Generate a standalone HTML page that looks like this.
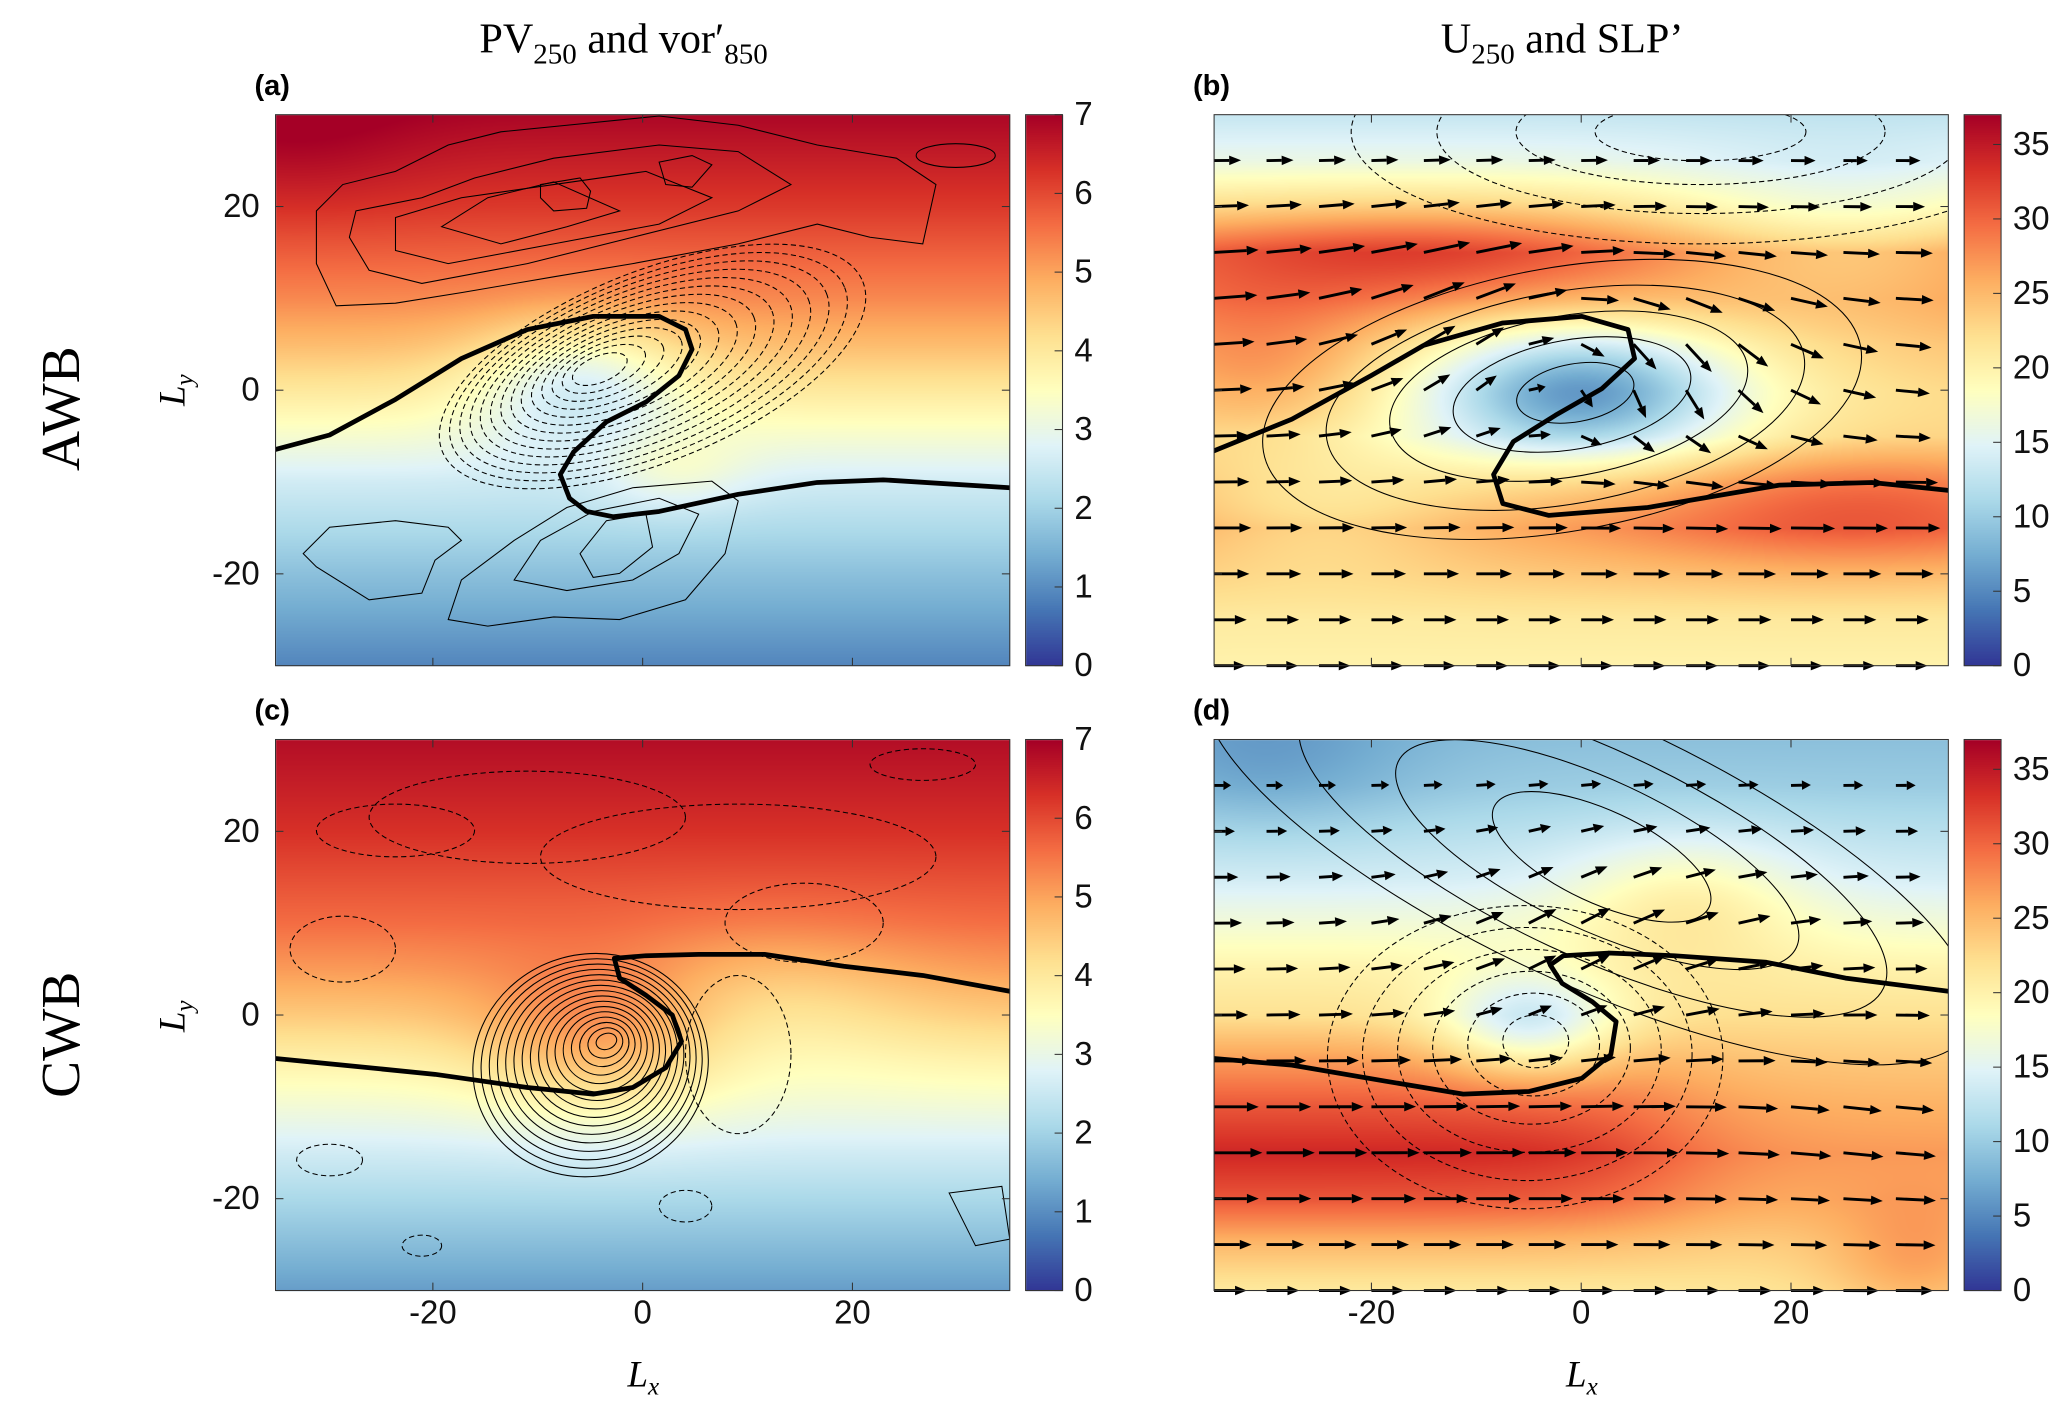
<!DOCTYPE html>
<html><head><meta charset="utf-8"><style>
html,body{margin:0;padding:0;background:#fff;width:2067px;height:1411px;overflow:hidden}
#cv{position:absolute;left:0;top:0}
#sv{position:absolute;left:0;top:0}
text{font-family:"Liberation Sans",sans-serif}
</style></head><body>
<canvas id="cv" width="2067" height="1411"></canvas>
<svg id="sv" width="2067" height="1411" viewBox="0 0 1568 1070.4" xmlns="http://www.w3.org/2000/svg">
<defs>
<clipPath id="ca"><rect x="209" y="87" width="557" height="418"/></clipPath>
<clipPath id="cb"><rect x="921" y="87" width="557" height="418"/></clipPath>
<clipPath id="cc"><rect x="209" y="561" width="557" height="418"/></clipPath>
<clipPath id="cd"><rect x="921" y="561" width="557" height="418"/></clipPath>
</defs>
<g fill="none" stroke="#000" stroke-width="0.8">
<g id="ga" clip-path="url(#ca)"></g><g id="gb" clip-path="url(#cb)"></g><g id="gc" clip-path="url(#cc)"></g><g id="gd" clip-path="url(#cd)"></g>
</g>
<g id="thick" fill="none" stroke="#000" stroke-width="3.6" stroke-linejoin="round" stroke-linecap="round">
<polyline clip-path="url(#ca)" points="209,341 250,330 300,303 350,272 400,250 450,240 500,240 520,250 525,265 515,285 490,305 460,320 435,343 425,360 432,378 445,388 465,392 500,388 560,375 620,366 670,364 766,370"/>
<polyline clip-path="url(#cb)" points="921,342 980,318 1040,285 1080,262 1140,245 1200,240 1235,250 1240,272 1215,295 1180,315 1148,335 1133,360 1140,382 1175,391 1250,385 1350,368 1420,366 1478,372"/>
<polyline clip-path="url(#cc)" points="209,803 260,808 330,815 400,825 450,830 480,825 505,810 517,790 510,770 490,755 470,742 466,727 490,725 530,724 580,724 640,733 700,740 766,752"/>
<polyline clip-path="url(#cd)" points="921,803 980,808 1050,820 1110,830 1160,828 1200,818 1222,800 1226,775 1208,760 1185,746 1176,732 1186,725 1220,723 1270,725 1340,730 1400,742 1478,752"/>
</g>
<g id="arr" fill="#000" stroke="#000"></g>
<g id="frames" fill="none" stroke="#333" stroke-width="0.8">
<rect x="209" y="87" width="557" height="418"/><rect x="921" y="87" width="557" height="418"/>
<rect x="209" y="561" width="557" height="418"/><rect x="921" y="561" width="557" height="418"/>
<rect x="778" y="87" width="28" height="418"/><rect x="1490" y="87" width="28" height="418"/>
<rect x="778" y="561" width="28" height="418"/><rect x="1490" y="561" width="28" height="418"/>
</g>
<g id="ticks" stroke="#333" stroke-width="0.8"></g>
<g id="labels" font-size="23" fill="#111"></g>
<text x="473" y="40" font-size="32" text-anchor="middle" style="font-family:'Liberation Serif',serif">PV<tspan font-size="22" dy="8">250</tspan><tspan dy="-8"> and vor′</tspan><tspan font-size="22" dy="8">850</tspan></text>
<text x="1185" y="40" font-size="32" text-anchor="middle" style="font-family:'Liberation Serif',serif">U<tspan font-size="22" dy="8">250</tspan><tspan dy="-8"> and SLP’</tspan></text>
<text x="193" y="72" font-size="22" font-weight="bold">(a)</text>
<text x="905" y="72" font-size="22" font-weight="bold">(b)</text>
<text x="193" y="546" font-size="22" font-weight="bold">(c)</text>
<text x="905" y="546" font-size="22" font-weight="bold">(d)</text>
<text transform="translate(60,310) rotate(-90)" font-size="42" text-anchor="middle" style="font-family:'Liberation Serif',serif">AWB</text>
<text transform="translate(60,785) rotate(-90)" font-size="42" text-anchor="middle" style="font-family:'Liberation Serif',serif">CWB</text>
<text transform="translate(140,296) rotate(-90)" font-size="28" text-anchor="middle" font-style="italic" style="font-family:'Liberation Serif',serif">L<tspan font-size="19" dy="6">y</tspan></text>
<text transform="translate(140,771) rotate(-90)" font-size="28" text-anchor="middle" font-style="italic" style="font-family:'Liberation Serif',serif">L<tspan font-size="19" dy="6">y</tspan></text>
<text x="488" y="1052" font-size="28" text-anchor="middle" font-style="italic" style="font-family:'Liberation Serif',serif">L<tspan font-size="19" dy="6">x</tspan></text>
<text x="1200" y="1052" font-size="28" text-anchor="middle" font-style="italic" style="font-family:'Liberation Serif',serif">L<tspan font-size="19" dy="6">x</tspan></text>
</svg>
<script>
const S=2067/1568;
const CM=['#313695','#4575b4','#74add1','#abd9e9','#e0f3f8','#ffffbf','#fee090','#fdae61','#f46d43','#d73027','#a50026'].map(h=>[parseInt(h.substr(1,2),16),parseInt(h.substr(3,2),16),parseInt(h.substr(5,2),16)]);
function col(t){t=Math.max(0,Math.min(1,t))*10;let i=Math.min(9,Math.floor(t)),f=t-i;return [0,1,2].map(k=>CM[i][k]+(CM[i+1][k]-CM[i][k])*f);}
function ip(a,y){if(y>=a[0][0])return a[0][1];for(let i=1;i<a.length;i++){if(y>=a[i][0]){let f=(y-a[i][0])/(a[i-1][0]-a[i][0]);return a[i][1]+(a[i-1][1]-a[i][1])*f;}}return a[a.length-1][1];}
function g(x,y,cx,cy,sx,sy){let dx=(x-cx)/sx,dy=(y-cy)/sy;return Math.exp(-0.5*(dx*dx+dy*dy));}
function fa(x,y){return ip([[30,6.9],[20,6.2],[10,5.3],[5,4.7],[0,4.0],[-5,3.3],[-10,2.6],[-20,1.7],[-30,0.9]],y)-1.4*g(x,y,-6,1,7,5)+0.6*g(x,y,3,-9,5,3)+0.3*g(x,y,-33,28,8,6);}
function fc(x,y){return ip([[30,6.8],[20,6.3],[10,5.6],[5,5.1],[0,4.5],[-5,3.8],[-10,3.2],[-15,2.6],[-20,2.1],[-30,1.2]],y)+1.0*g(x,y,-4,-3,8,6)-0.5*g(x,y,12,2,10,6);}
function fb(x,y){return ip([[30,13],[25,16],[20,22],[15,29],[10,28],[5,25],[0,23],[-5,22],[-10,25],[-15,27],[-20,24],[-25,21],[-30,20]],y)+4*g(x,y,-15,15,15,4)-5*g(x,y,25,17,12,6)-13*g(x,y,0,0,10,5)-4*g(x,y,0,0,18,8)+5*g(x,y,25,-12,15,5)-4*g(x,y,-25,-13,10,5)+4*g(x,y,-30,2,8,6);}
function fd(x,y){let j=ip([[30,9],[25,10],[20,12],[15,14],[10,17],[5,20],[0,22],[-5,27],[-10,31],[-15,34],[-20,31],[-25,25],[-30,21]],y);let f=1-0.6/(1+Math.exp(-(x-8)/5));let U=j+(y<0?(j-22)*(f-1):0);return U-9*g(x,y,-5,-1,6,4)+5*g(x,y,10,13,8,5)-3*g(x,y,-30,28,10,6)+4*g(x,y,32,-27,6,5);}
const cv=document.getElementById('cv'),ctx=cv.getContext('2d');
function fill(px,py,pw,ph,f,vmax,cbar){const X0=Math.round(px*S),Y0=Math.round(py*S),W=Math.round(pw*S),H=Math.round(ph*S);const im=ctx.createImageData(W,H);for(let j=0;j<H;j++){for(let i=0;i<W;i++){let v;if(cbar){v=1-(j+.5)/H;}else{let x=-35+70*(i+.5)/W,y=30-60*(j+.5)/H;v=f(x,y)/vmax;}let c=col(v),o=(j*W+i)*4;im.data[o]=c[0];im.data[o+1]=c[1];im.data[o+2]=c[2];im.data[o+3]=255;}}ctx.putImageData(im,X0,Y0);}
fill(209,87,557,418,fa,7);fill(921,87,557,418,fb,37);fill(209,561,557,418,fc,7);fill(921,561,557,418,fd,37);
fill(778,87,28,418,null,1,1);fill(1490,87,28,418,null,1,1);fill(778,561,28,418,null,1,1);fill(1490,561,28,418,null,1,1);
const NS='http://www.w3.org/2000/svg';
function el(par,tag,at){const e=document.createElementNS(NS,tag);for(const k in at)e.setAttribute(k,at[k]);par.appendChild(e);return e;}
const G={ca:document.getElementById('ga'),cb:document.getElementById('gb'),cc:document.getElementById('gc'),cd:document.getElementById('gd')};
function ell(clip,cx,cy,rx,ry,rot,dash){el(G[clip],'ellipse',{cx,cy,rx,ry,transform:`rotate(${rot} ${cx} ${cy})`,'stroke-dasharray':dash?'4 2.5':'none'});}
function poly(clip,pts,dash){el(G[clip],'polygon',{points:pts,'stroke-dasharray':dash?'4 2.5':'none'});}
// panel a
poly('ca','240,160 260,140 300,130 340,110 380,100 430,95 500,88 560,95 620,110 680,120 710,140 700,185 660,180 620,170 560,185 480,200 420,210 350,222 300,230 255,232 240,200');
poly('ca','270,160 320,150 360,135 420,120 500,110 560,115 600,140 560,160 480,180 400,200 320,215 280,205 265,180');
poly('ca','300,165 350,150 420,140 490,130 540,150 500,170 420,185 340,200 300,190');
poly('ca','335,172 370,150 420,138 470,160 430,172 380,185');
poly('ca','410,140 440,135 448,145 445,158 420,160 410,150');
poly('ca','500,123 525,118 540,125 525,142 505,140');
ell('ca',725,118,30,9,0);
for(let k=0;k<14;k++){let t=k/13;ell('ca',455+40*t,280-2*t,22+150*t,10+62*t,-22,1);}
poly('ca','340,470 350,440 390,410 430,385 480,370 540,365 560,380 550,420 520,455 470,470 420,468 370,475');
poly('ca','390,440 410,410 450,388 500,378 530,390 515,420 480,440 430,448');
poly('ca','440,420 460,395 490,390 495,415 470,435 450,438');
poly('ca','230,420 250,400 300,395 340,400 350,410 330,425 320,450 280,455 240,430');
// panel b
for(let k=0;k<5;k++){let t=k/4;ell('cb',1195-10*t,298+5*t,45+185*t,22+78*t,-10,0);}
[[80,22],[140,40],[200,62],[265,85]].forEach(r=>ell('cb',1290,100,r[0],r[1],0,1));
// panel c
for(let k=0;k<16;k++){let t=k/15;ell('cc',460-12*t,790+18*t,8+82*t,6+78*t,-20,0);}
[[300,630,60,20],[260,720,40,25],[400,620,120,35],[560,800,40,60],[700,580,40,12],[560,650,150,40],[250,880,25,12],[520,915,20,12],[320,945,15,8],[610,700,60,30]].forEach(e=>ell('cc',e[0],e[1],e[2],e[3],0,1));
poly('cc','720,905 760,900 766,940 740,945');
// panel d
for(let k=0;k<4;k++){let t=k/3;ell('cd',1215-10*t,650-5*t,90+230*t,35+65*t,25,0);}
for(let k=0;k<6;k++){let t=k/5;ell('cd',1165-8*t,790+12*t,25+125*t,20+95*t,0,1);}
// arrows
const arr=document.getElementById('arr');
function arrows(px,py,U,V){for(let r=0;r<12;r++){let y=25-5*r;for(let c=0;c<14;c++){let x=-35+5*c;let u=U(x,y),v=V(x,y,u);let L=6+0.9*Math.hypot(u,v);let ang=Math.atan2(v,u);let X=px+(x+35)*557/70,Y=py+(30-y)*418/60;let ex=X+L*Math.cos(ang),ey=Y-L*Math.sin(ang);let hl=Math.min(9,L*0.45),hw=3.6;let bx=ex-hl*Math.cos(ang),by=ey+hl*Math.sin(ang);let nx=Math.sin(ang),ny=Math.cos(ang);
el(arr,'line',{x1:X,y1:Y,x2:bx,y2:by,'stroke-width':2.2});
el(arr,'polygon',{points:`${ex},${ey} ${bx+hw*nx},${by+hw*ny} ${bx-hw*nx},${by-hw*ny}`,stroke:'none'});}}}
arrows(921,87,fb,(x,y,u)=>15*(-x/10)*Math.exp(-(x*x/300+(y-3)*(y-3)/100))-12*g(x,y,5,2,8,6)+5*g(x,y,-15,12,14,6));
arrows(921,561,fd,(x,y,u)=>10*Math.exp(-(x*x/300+(y-8)*(y-8)/120))-3*g(x,y,25,-12,9,7));
// ticks and labels
const tk=document.getElementById('ticks'),lb=document.getElementById('labels');
function txt(x,y,s,anc,sz){const e=el(lb,'text',{x,y,'text-anchor':anc||'middle'});if(sz)e.setAttribute('font-size',sz);e.textContent=s;}
[[209,87],[921,87],[209,561],[921,561]].forEach((p,i)=>{const[px,py]=p;
[-20,0,20].forEach(v=>{let X=px+(v+35)*557/70;el(tk,'line',{x1:X,y1:py,x2:X,y2:py+6});el(tk,'line',{x1:X,y1:py+418,x2:X,y2:py+412});
let Y=py+(30-v)*418/60;el(tk,'line',{x1:px,y1:Y,x2:px+6,y2:Y});el(tk,'line',{x1:px+557,y1:Y,x2:px+551,y2:Y});
if(i%2==0)txt(px-12,Y+8,String(v),'end',25);
if(i>=2)txt(X,py+443,String(v),'middle',25);});
let cx=px+569;
if(i%2==0){for(let v=0;v<=7;v++){let Y=py+418-v*418/7;el(tk,'line',{x1:cx+22,y1:Y,x2:cx+28,y2:Y});txt(cx+37,Y+8,String(v),'start',25);}}
else{for(let v=0;v<=35;v+=5){let Y=py+418-v*418/37;el(tk,'line',{x1:cx+22,y1:Y,x2:cx+28,y2:Y});txt(cx+37,Y+8,String(v),'start',25);}}
});
</script>
</body></html>
